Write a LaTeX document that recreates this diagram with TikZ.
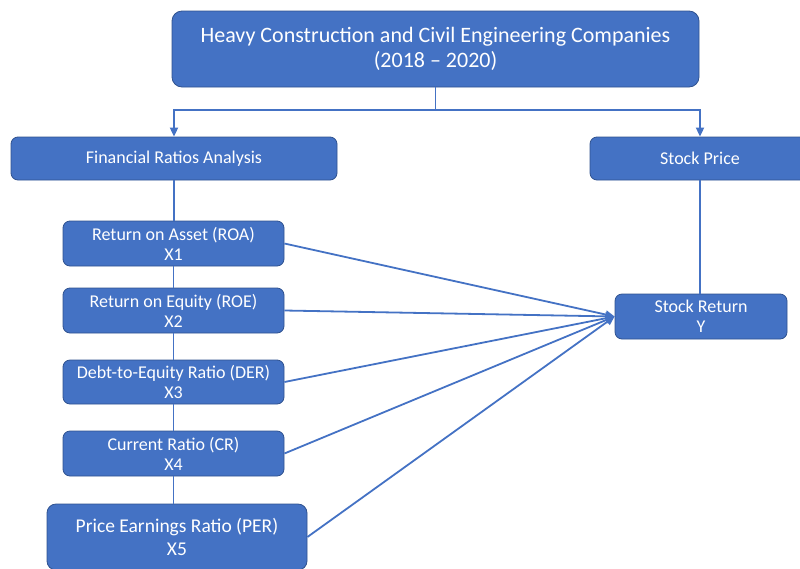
\documentclass[tikz,border=0pt]{standalone}
\usepackage{fontspec}
\setmainfont{Carlito}
\usetikzlibrary{arrows.meta}
\definecolor{boxblue}{HTML}{4472C4}
\definecolor{edgeblue}{HTML}{2F528F}
\begin{document}
\begin{tikzpicture}[x=1pt,y=-1pt,
  blk/.style={draw=edgeblue, line width=0.8pt, fill=boxblue, rounded corners=7pt,
    text=white, align=center, inner sep=0pt, font=\fontsize{18}{20}\selectfont},
  link/.style={draw=boxblue, line width=1.8pt},
  arr/.style={link, -{Triangle[length=9pt,width=8pt]}}]
\useasboundingbox (0,0) rectangle (800,568);
% boxes
\node[blk, minimum width=527pt, minimum height=76pt, rounded corners=10pt,
  font=\fontsize{22}{25}\selectfont] (top) at (435.5,49)
  {Heavy Construction and Civil Engineering Companies\\(2018 -- 2020)};
\node[blk, minimum width=326pt, minimum height=43pt] (fin) at (174,158.5) {Financial Ratios Analysis};
\node[blk, minimum width=220pt, minimum height=43pt] (sp) at (700,158.5) {Stock Price};
\node[blk, minimum width=221pt, minimum height=45pt] (roa) at (173.5,243.5) {Return on Asset (ROA)\\X1};
\node[blk, minimum width=221pt, minimum height=45pt] (roe) at (173.5,310.5) {Return on Equity (ROE)\\X2};
\node[blk, minimum width=221pt, minimum height=44pt] (der) at (173.5,382) {Debt-to-Equity Ratio (DER)\\X3};
\node[blk, minimum width=221pt, minimum height=45pt] (cr) at (173.5,453.5) {Current Ratio (CR)\\X4};
\node[blk, minimum width=260pt, minimum height=66pt, rounded corners=9pt,
  font=\fontsize{19.5}{23}\selectfont] (per) at (177,537) {Price Earnings Ratio (PER)\\X5};
\node[blk, minimum width=172pt, minimum height=45pt] (sr) at (701,316.5) {Stock Return\\Y};
% split from the top box
\coordinate (split) at (top.south |- 0,110);
\draw[link] (top.south) -- (split);
\draw[arr] (split) -| (fin.north);
\draw[arr] (split) -| (sp.north);
% vertical chain of ratios
\draw[link] (fin.south) -- (fin.south |- roa.north);
\draw[link] (roa.south) -- (roe.north);
\draw[link] (roe.south) -- (der.north);
\draw[link] (der.south) -- (cr.north);
\draw[link] (cr.south) -- (cr.south |- per.north);
\draw[link] (sp.south) -- (sp.south |- sr.north);
% ratios to stock return
\foreach \n in {roa,roe,der,cr,per}
  \draw[arr] (\n.east) -- (sr.west);
\end{tikzpicture}
\end{document}
